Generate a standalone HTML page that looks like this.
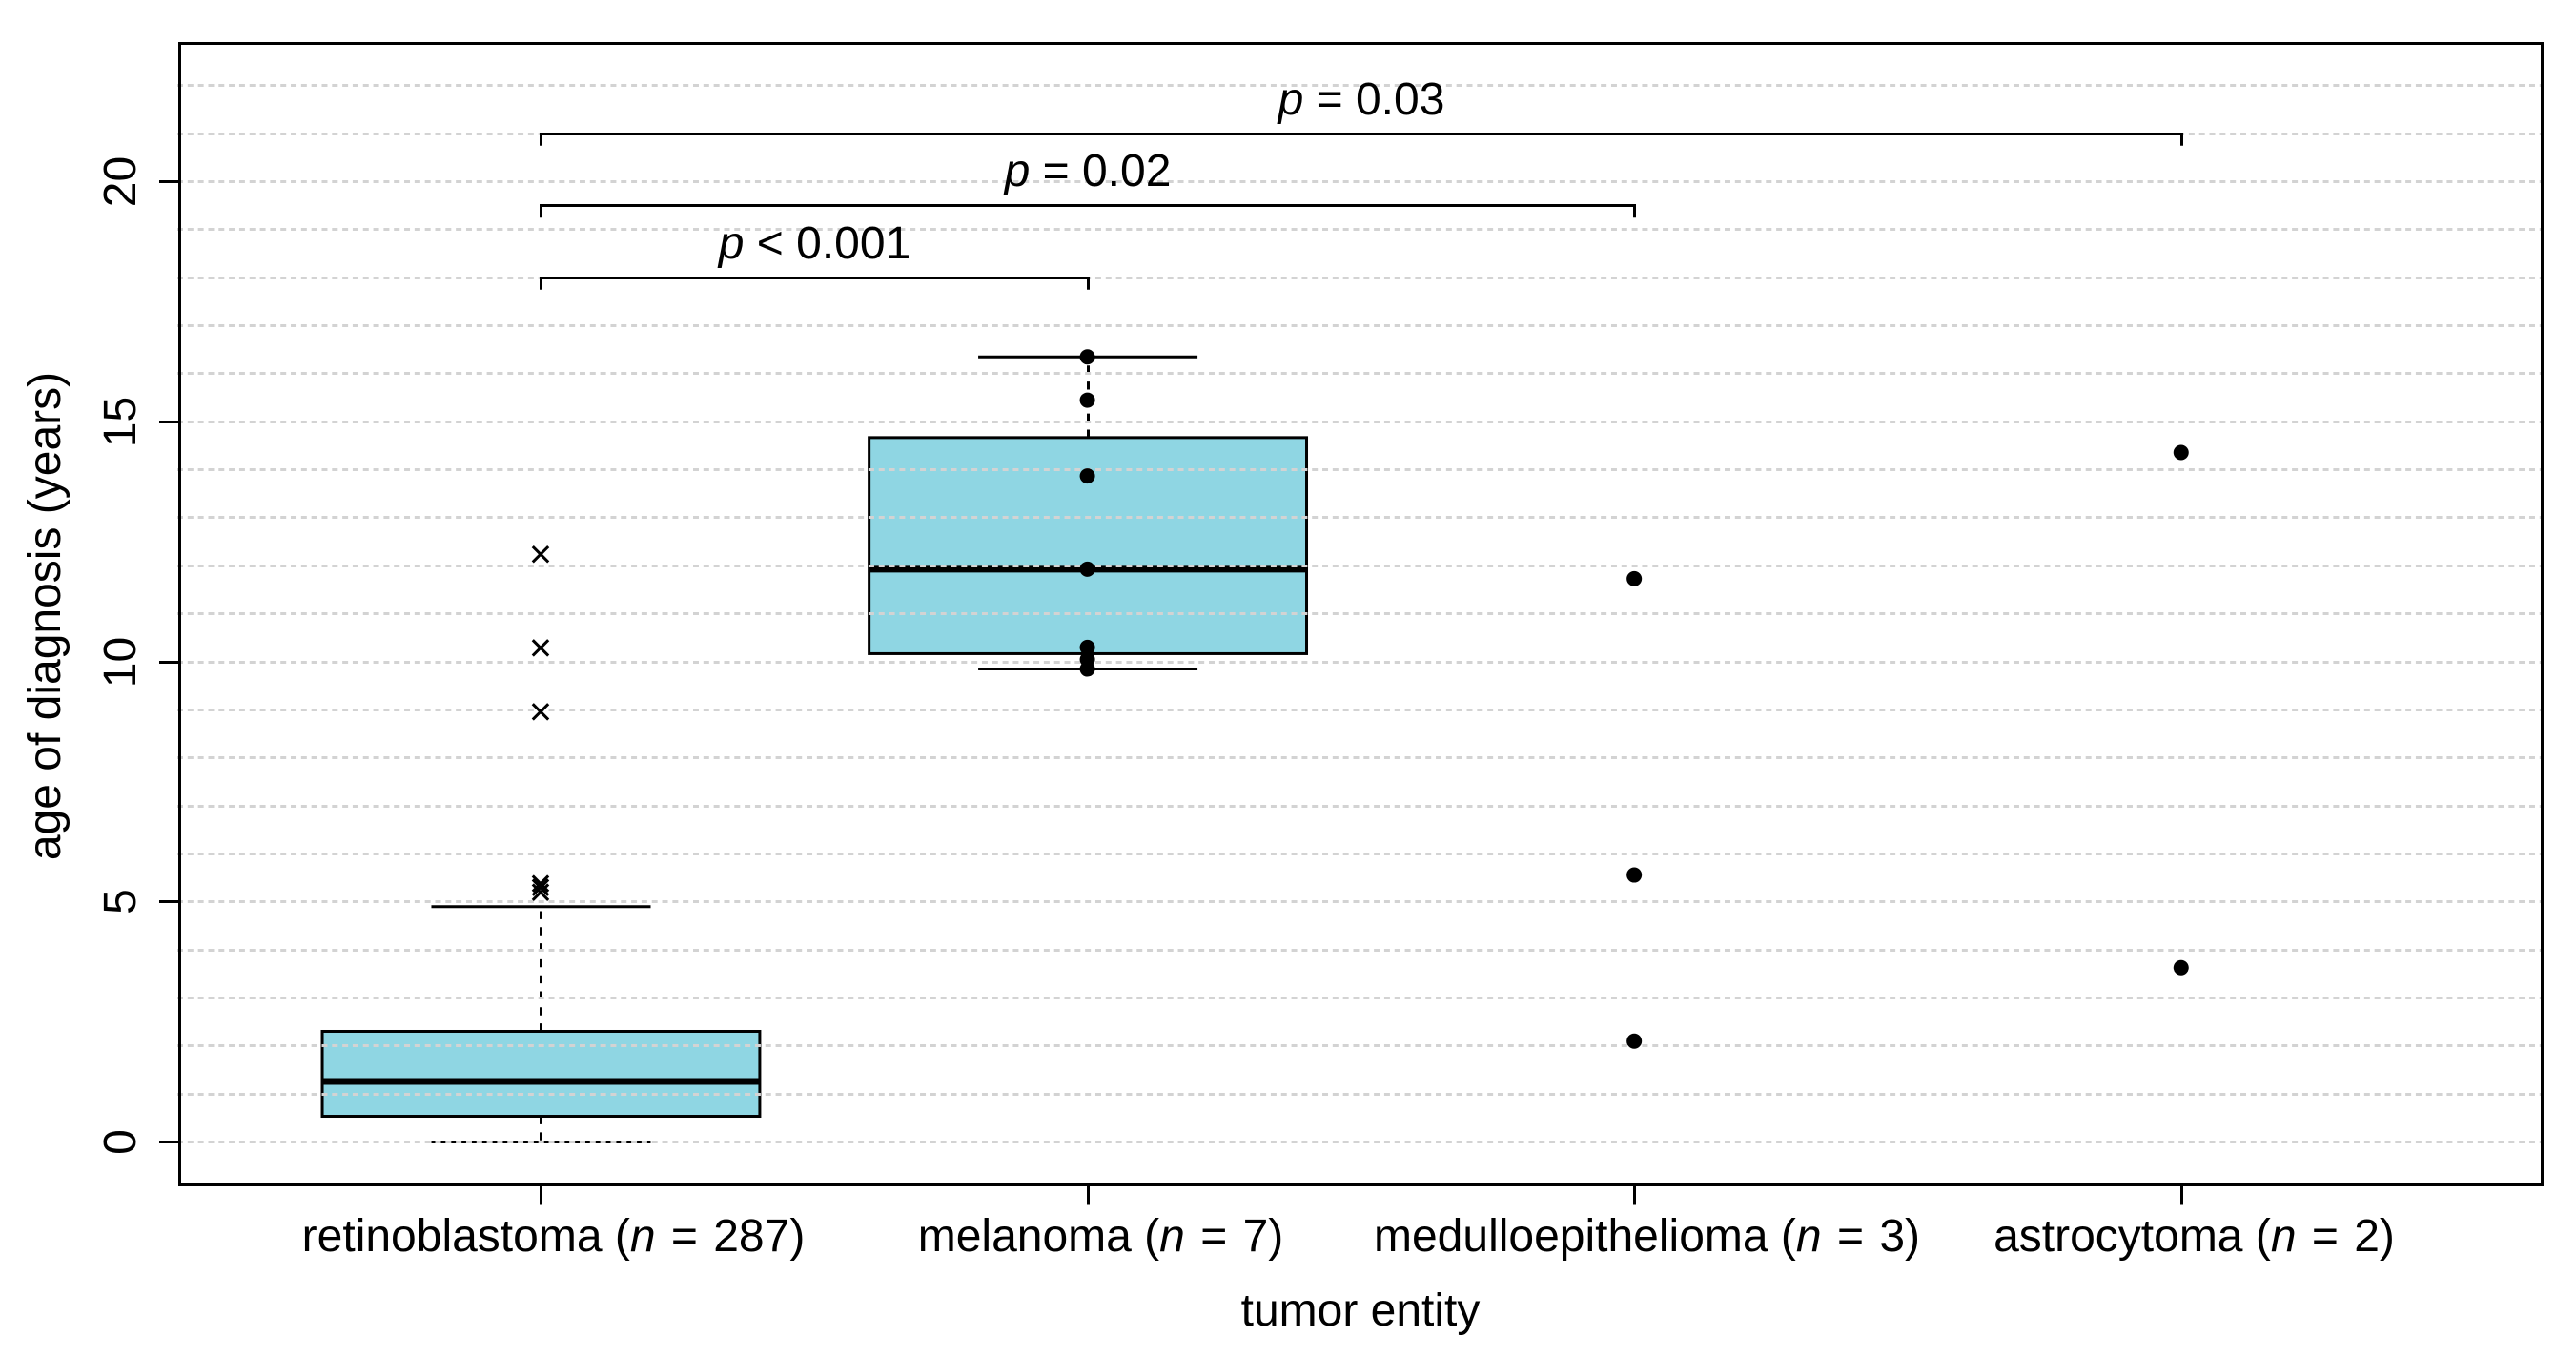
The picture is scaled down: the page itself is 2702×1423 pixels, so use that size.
<!DOCTYPE html>
<html lang="en">
<head>
<meta charset="utf-8">
<title>Age of diagnosis by tumor entity</title>
<style>
html,body{margin:0;padding:0;background:#fff;}
svg{display:block;}
text{font-family:"Liberation Sans",Arial,sans-serif;font-size:48px;fill:#000;}
</style>
</head>
<body>
<svg id="chart" xmlns="http://www.w3.org/2000/svg" width="2702" height="1423" viewBox="0 0 2702 1423">
<rect x="0" y="0" width="2702" height="1423" fill="#ffffff"/>
</svg>
<script>
// ---- chart data ----
const categoryNames = ["retinoblastoma", "melanoma", "medulloepithelioma", "astrocytoma"];
const categoryCounts = [287, 7, 3, 2];
const boxCategories = [1, 2];
const boxQ1 = [0.536, 10.17];
const boxMedian = [1.26, 11.93];
const boxQ3 = [2.304, 14.67];
const whiskerLow = [0, 9.85];
const whiskerHigh = [4.9, 16.35];
const retinoblastomaOutliers = [12.24, 10.29, 8.96, 5.38, 5.3, 5.2];
const melanomaPoints = [16.35, 15.45, 13.87, 11.93, 10.3, 10.05, 9.85];
const medulloepitheliomaPoints = [11.73, 5.56, 2.1];
const astrocytomaPoints = [14.36, 3.63];
const yTickValues = [0, 5, 10, 15, 20];
const gridValues = [0, 1, 2, 3, 4, 5, 6, 7, 8, 9, 10, 11, 12, 13, 14, 15, 16, 17, 18, 19, 20, 21, 22];
const bracketFrom = [1, 1, 1];
const bracketTo = [2, 3, 4];
const bracketLevels = [18, 19.5, 21];
const bracketLabels = ["< 0.001", "= 0.02", "= 0.03"];

// ---- axis functions ----
const xDomain = [0.3393, 4.6594];
const yDomain = [-0.8937, 22.8798];
const plotLeft = 188.5, plotRight = 2666.5, plotTop = 45.5, plotBottom = 1242.5;
function xScale(v) {
  return plotLeft + (v - xDomain[0]) / (xDomain[1] - xDomain[0]) * (plotRight - plotLeft);
}
function yScale(v) {
  return plotBottom - (v - yDomain[0]) / (yDomain[1] - yDomain[0]) * (plotBottom - plotTop);
}

const svg = document.getElementById('chart');
const NS = 'http://www.w3.org/2000/svg';
function mk(tag, props, parent) {
  const el = document.createElementNS(NS, tag);
  for (const k in props) el.setAttribute(k, props[k]);
  (parent || svg).appendChild(el);
  return el;
}
function seg(x1, y1, x2, y2, width, dash, parent) {
  const props = {x1: x1, y1: y1, x2: x2, y2: y2, stroke: '#000', 'stroke-width': width};
  if (dash) props['stroke-dasharray'] = dash;
  return mk('line', props, parent);
}
function addSpan(parent, str, italic, wordGap) {
  const s = document.createElementNS(NS, 'tspan');
  if (italic) s.setAttribute('font-style', 'italic');
  if (wordGap) s.setAttribute('word-spacing', wordGap);
  s.textContent = str;
  parent.appendChild(s);
}

// ---- boxplots (drawn beneath the grid) ----
const boxHalf = 0.4;
const capHalf = 0.2005;
boxCategories.forEach(function (cat, i) {
  const g = mk('g', {});
  
  
  const cx = Math.round(xScale(cat) - 0.5) + 0.5;

  const wu = seg(cx, yScale(boxQ3[i]), cx, yScale(whiskerHigh[i]), 3, '8.4 8.4', g);
  
  
  const wl = seg(cx, yScale(boxQ1[i]), cx, yScale(whiskerLow[i]), 3, '8.4 8.4', g);
  
  

  const cu = seg(xScale(cat - capHalf), yScale(whiskerHigh[i]), xScale(cat + capHalf), yScale(whiskerHigh[i]), 3, null, g);
  
  
  const cl = seg(xScale(cat - capHalf), yScale(whiskerLow[i]), xScale(cat + capHalf), yScale(whiskerLow[i]), 3, null, g);
  
  

  const rect = mk('rect', {
    x: xScale(cat - boxHalf),
    y: yScale(boxQ3[i]),
    width: xScale(cat + boxHalf) - xScale(cat - boxHalf),
    height: yScale(boxQ1[i]) - yScale(boxQ3[i]),
    fill: '#8fd6e3', stroke: '#000', 'stroke-width': 3
  }, g);
  
  

  const med = seg(xScale(cat - boxHalf), yScale(boxMedian[i]), xScale(cat + boxHalf), yScale(boxMedian[i]), 7, null, g);
  
  
});

// ---- grid ----
const gridGroup = mk('g', {});


gridValues.forEach(function (v) {
  const y = Math.round(yScale(v) - 0.5) + 0.5;
  const l = mk('line', {x1: 186, y1: y, x2: plotRight - 1, y2: y, stroke: '#d3d3d3', 'stroke-width': 3, 'stroke-dasharray': '6 4.82'}, gridGroup);
  
  
});

// ---- individual points ----
const pointGroups = [
  {cat: 2, vals: melanomaPoints, name: 'melanoma-points'},
  {cat: 3, vals: medulloepitheliomaPoints, name: 'medulloepithelioma-points'},
  {cat: 4, vals: astrocytomaPoints, name: 'astrocytoma-points'}
];
pointGroups.forEach(function (pg) {
  const g = mk('g', {});
  
  
  pg.vals.forEach(function (v) {
    const c = mk('circle', {cx: xScale(pg.cat) - 0.5, cy: yScale(v), r: 8, fill: '#000'}, g);
    
    
  });
});

// ---- outlier crosses ----
const outlierGroup = mk('g', {});


retinoblastomaOutliers.forEach(function (v) {
  const cx = xScale(1) - 0.5, cy = yScale(v), s = 8.2;
  const m = mk('path', {
    d: 'M' + (cx - s) + ' ' + (cy - s) + 'L' + (cx + s) + ' ' + (cy + s) + 'M' + (cx - s) + ' ' + (cy + s) + 'L' + (cx + s) + ' ' + (cy - s),
    stroke: '#000', 'stroke-width': 3, fill: 'none'
  }, outlierGroup);
  
  
});

// ---- significance brackets ----
bracketLevels.forEach(function (level, i) {
  const g = mk('g', {});
  
  
  const x1 = Math.round(xScale(bracketFrom[i]) - 0.5) + 0.5;
  const x2 = Math.round(xScale(bracketTo[i]) - 0.5) + 0.5;
  const y = Math.round(yScale(level) - 0.5) + 0.5;
  const yTip = yScale(level - 0.25);
  const p = mk('path', {
    d: 'M' + x1 + ' ' + yTip + 'L' + x1 + ' ' + y + 'L' + x2 + ' ' + y + 'L' + x2 + ' ' + yTip,
    fill: 'none', stroke: '#000', 'stroke-width': 3, 'stroke-linejoin': 'miter'
  }, g);
  
  
  const t = mk('text', {x: (x1 + x2) / 2, y: y - 20.5, 'text-anchor': 'middle'}, g);
  
  
  addSpan(t, 'p', true);
  addSpan(t, ' ' + bracketLabels[i], false);
});

// ---- plot frame ----
const frame = mk('rect', {x: plotLeft, y: plotTop, width: plotRight - plotLeft, height: plotBottom - plotTop, fill: 'none', stroke: '#000', 'stroke-width': 3});



// ---- y axis ----
const yAxis = mk('g', {});


yTickValues.forEach(function (v) {
  const y = Math.round(yScale(v) - 0.5) + 0.5;
  const tick = seg(167, y, plotLeft, y, 3, null, yAxis);
  
  
  const label = mk('text', {x: 0, y: 0, 'text-anchor': 'middle', transform: 'translate(142 ' + y + ') rotate(-90)'}, yAxis);
  
  
  label.textContent = String(v);
});
const yTitle = mk('text', {x: 0, y: 0, 'text-anchor': 'middle', transform: 'translate(63 646) rotate(-90)'});


yTitle.textContent = 'age of diagnosis (years)';

// ---- x axis ----
const xAxis = mk('g', {});


categoryNames.forEach(function (name, i) {
  const x = Math.round(xScale(i + 1) - 0.5) + 0.5;
  const tick = seg(x, plotBottom, x, plotBottom + 21, 3, null, xAxis);
  
  
  const label = mk('text', {x: x + 13, y: 1312, 'text-anchor': 'middle'}, xAxis);
  
  
  addSpan(label, name + ' (', false);
  addSpan(label, 'n', true);
  addSpan(label, ' = ' + categoryCounts[i] + ')', false, 3);
});
const xTitle = mk('text', {x: 1427, y: 1390, 'text-anchor': 'middle'});


xTitle.textContent = 'tumor entity';
</script>
</body>
</html>
